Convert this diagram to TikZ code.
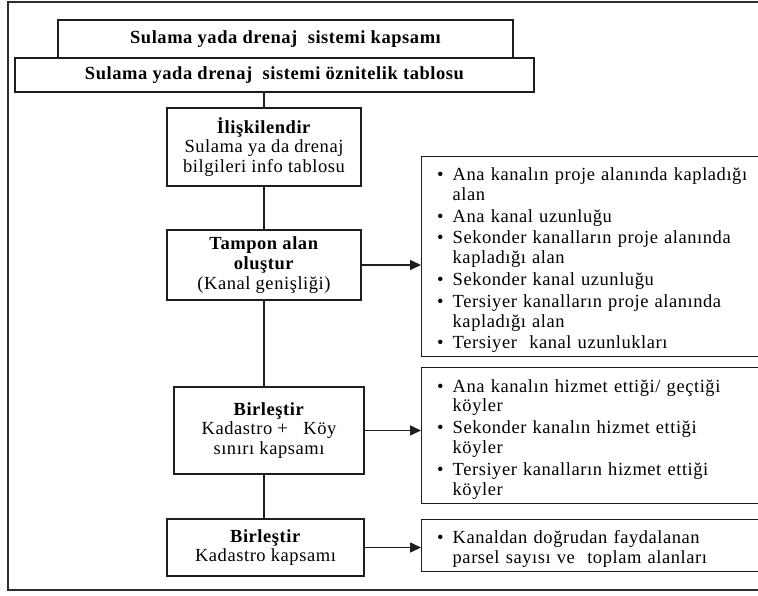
\documentclass[tikz,border=0pt]{standalone}
\usepackage{fontspec}
\setmainfont{Liberation Serif}[LetterSpace=3]
\usepackage{enumitem}
\usepackage{tikz}
\usetikzlibrary{arrows.meta, positioning}
\definecolor{mydark}{RGB}{30,30,30}
\definecolor{myframe}{RGB}{45,45,45}
\newcommand{\yazi}{\fontsize{18.5}{19.8}\selectfont}
\newcommand{\maddeler}[1]{\begin{itemize}[nosep, leftmargin=21pt, labelsep=9pt, itemsep=2pt]#1\end{itemize}}
\tikzset{
  procbox/.style={rectangle, draw=mydark, fill=white, align=center,
    font=\yazi, line width=1.4pt, inner sep=2pt},
  headbox/.style={procbox, font=\yazi\bfseries},
  listbox/.style={rectangle, draw=mydark, fill=white, anchor=north west,
    text width=330pt, align=left, inner xsep=10pt, font=\yazi, line width=1.4pt},
  arrow/.style={-{Triangle[length=11pt, width=10pt]}, line width=1.6pt, color=mydark},
  line/.style={line width=1.4pt, color=mydark}
}

\begin{document}
\begin{tikzpicture}[x=1pt, y=-1pt]
  \clip (0,0) rectangle (758,596);
  \draw[line width=2pt, color=myframe] (775,2) -- (8,2) -- (8,590) -- (775,590);

  \node[headbox, minimum width=519pt, minimum height=34pt] (k2) at (274.5,75) {Sulama yada drenaj\ \ sistemi öznitelik tablosu};
  \node[headbox, minimum width=455pt, minimum height=38pt] (k1) at (285.5,39) {Sulama yada drenaj\ \ sistemi kapsamı};

  \node[procbox, minimum width=194pt, minimum height=78pt] (k3) at (264,147) {\textbf{İlişkilendir}\\ Sulama ya da drenaj\\ bilgileri info tablosu};
  \node[procbox, minimum width=194pt, minimum height=70pt] (k4) at (264,265) {\textbf{Tampon alan}\\ \textbf{oluştur}\\ (Kanal genişliği)};
  \node[procbox, minimum width=190pt, minimum height=87pt] (k5) at (269,430.5) {\textbf{Birleştir}\\ Kadastro +\ \ \ Köy\\ sınırı kapsamı};
  \node[procbox, minimum width=197pt, minimum height=57pt] (k6) at (265.5,547.5) {\textbf{Birleştir}\\ Kadastro kapsamı};

  \node[listbox, minimum height=200pt] (l1) at (421,156) {\maddeler{
    \item Ana kanalın proje alanında kapladığı\\ alan
    \item Ana kanal uzunluğu
    \item Sekonder kanalların proje alanında\\ kapladığı alan
    \item Sekonder kanal uzunluğu
    \item Tersiyer kanalların proje alanında\\ kapladığı alan
    \item Tersiyer\ \ kanal uzunlukları}};
  \node[listbox, minimum height=136pt] (l2) at (421,367) {\maddeler{
    \item Ana kanalın hizmet ettiği/ geçtiği\\ köyler
    \item Sekonder kanalın hizmet ettiği\\ köyler
    \item Tersiyer kanalların hizmet ettiği\\ köyler}};
  \node[listbox, minimum height=52pt] (l3) at (421,519) {\maddeler{
    \item Kanaldan doğrudan faydalanan\\ parsel sayısı ve\ \ toplam alanları}};

  \draw[line] (k3.north |- k2.south) -- (k3.north);
  \draw[line] (k3.south) -- (k3.south |- k4.north);
  \draw[line] (k4.south) -- (k4.south |- k5.north);
  \draw[line] (k4.south |- k5.south) -- (k4.south |- k6.north);

  \draw[arrow] (k4.east) -- (k4.east -| l1.west);
  \draw[arrow] (k5.east) -- (k5.east -| l2.west);
  \draw[arrow] (k6.east) -- (k6.east -| l3.west);
\end{tikzpicture}
\end{document}
